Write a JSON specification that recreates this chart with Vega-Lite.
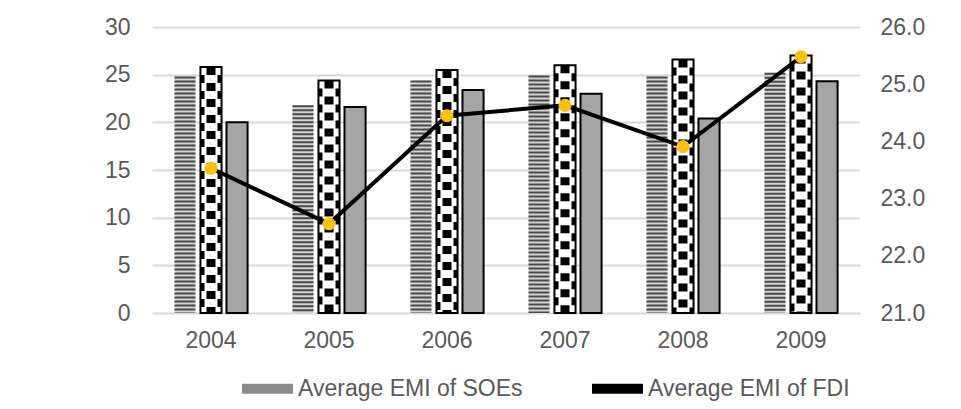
{
  "$schema": "https://vega.github.io/schema/vega-lite/v6.json",
  "width": 708,
  "height": 286,
  "autosize": {"type": "none"},
  "padding": {"left": 152, "top": 27, "right": 101, "bottom": 96},
  "background": "#ffffff",
  "config": {
    "font": "Liberation Sans",
    "view": {"stroke": null},
    "axis": {"labelFont": "Liberation Sans", "labelFontSize": 23, "labelColor": "#595959", "ticks": false, "domain": false, "title": null}
  },
  "data": {
    "values": [
      {"year": "2004", "soe": 24.8, "fdi": 25.8, "other": 20.0, "emi": 23.53},
      {"year": "2005", "soe": 21.8, "fdi": 24.4, "other": 21.6, "emi": 22.56},
      {"year": "2006", "soe": 24.4, "fdi": 25.5, "other": 23.4, "emi": 24.45},
      {"year": "2007", "soe": 24.9, "fdi": 26.0, "other": 23.0, "emi": 24.63},
      {"year": "2008", "soe": 24.8, "fdi": 26.6, "other": 20.4, "emi": 23.91},
      {"year": "2009", "soe": 25.2, "fdi": 27.0, "other": 24.3, "emi": 25.48}
    ]
  },
  "resolve": {"scale": {"y": "independent"}},
  "layer": [
    {
      "layer": [
        {
          "transform": [
            {"fold": ["soe", "fdi", "other"], "as": ["series", "value"]}
          ],
          "mark": {"type": "bar", "strokeWidth": 2},
          "encoding": {
            "x": {"field": "year", "type": "nominal", "sort": null,
                  "scale": {"paddingInner": 0.38, "paddingOuter": 0.19},
                  "axis": {"labelAngle": 0, "labelPadding": 16, "grid": false}},
            "xOffset": {"field": "series", "type": "nominal",
                        "scale": {"domain": ["soe", "fdi", "other"], "paddingInner": 0.19, "paddingOuter": 0}},
            "y": {"field": "value", "type": "quantitative",
                  "scale": {"domain": [0, 30], "nice": false},
                  "axis": {"values": [0, 5, 10, 15, 20, 25, 30], "grid": true, "gridColor": "#d9d9d9", "gridWidth": 2, "labelPadding": 22, "orient": "left"}},
            "fill": {"field": "series", "type": "nominal", "legend": null,
                     "scale": {"domain": ["soe", "fdi", "other"], "range": ["#d4d4d4", "#ffffff", "#a5a5a5"]}},
            "stroke": {"field": "series", "type": "nominal", "legend": null,
                       "scale": {"domain": ["soe", "fdi", "other"], "range": ["transparent", "#000000", "#000000"]}}
          }
        },
        {
          "mark": {"type": "rule", "xOffset": -26, "strokeWidth": 21, "strokeDash": [2, 2], "color": "#4a4a4a", "strokeCap": "butt"},
          "encoding": {
            "x": {"field": "year", "type": "nominal", "sort": null},
            "y": {"field": "soe", "type": "quantitative"},
            "y2": {"datum": 0}
          }
        },
        {
          "mark": {"type": "rule", "strokeWidth": 9, "strokeDash": [8, 8], "color": "#000000", "strokeCap": "butt"},
          "encoding": {
            "x": {"field": "year", "type": "nominal", "sort": null},
            "y": {"field": "fdi", "type": "quantitative"},
            "y2": {"datum": 0}
          }
        },
        {
          "mark": {"type": "rule", "xOffset": -8.5, "strokeWidth": 4, "strokeDash": [8, 8], "strokeDashOffset": 8, "color": "#000000", "strokeCap": "butt"},
          "encoding": {
            "x": {"field": "year", "type": "nominal", "sort": null},
            "y": {"field": "fdi", "type": "quantitative"},
            "y2": {"datum": 0}
          }
        },
        {
          "mark": {"type": "rule", "xOffset": 8.5, "strokeWidth": 4, "strokeDash": [8, 8], "strokeDashOffset": 8, "color": "#000000", "strokeCap": "butt"},
          "encoding": {
            "x": {"field": "year", "type": "nominal", "sort": null},
            "y": {"field": "fdi", "type": "quantitative"},
            "y2": {"datum": 0}
          }
        },
        {
          "transform": [
            {"fold": ["soe", "fdi"], "as": ["key", "value"]},
            {"calculate": "datum.key === 'soe' ? 'Average EMI of SOEs' : 'Average EMI of FDI'", "as": "series"}
          ],
          "mark": {"type": "point", "filled": true, "opacity": 0},
          "encoding": {
            "x": {"field": "year", "type": "nominal", "sort": null},
            "y": {"field": "value", "type": "quantitative"},
            "color": {"field": "series", "type": "nominal",
                      "scale": {"domain": ["Average EMI of SOEs", "Average EMI of FDI"], "range": ["#8a8a8a", "#000000"]},
                      "legend": {"title": null, "orient": "none", "legendX": 90, "legendY": 336, "direction": "horizontal",
                                 "symbolType": "M-1,-0.2H1V0.2H-1Z", "symbolSize": 2600, "symbolOpacity": 1, "symbolStrokeWidth": 0,
                                 "labelFont": "Liberation Sans", "labelFontSize": 23, "labelColor": "#595959", "labelOffset": 5,
                                 "columnPadding": 69, "padding": 0, "labelLimit": 400}}
          }
        }
      ]
    },
    {
      "layer": [
        {
          "mark": {"type": "line", "color": "#000000", "strokeWidth": 4},
          "encoding": {
            "x": {"field": "year", "type": "nominal", "sort": null},
            "y": {"field": "emi", "type": "quantitative",
                  "scale": {"domain": [21, 26], "nice": false, "zero": false},
                  "axis": {"orient": "right", "values": [21, 22, 23, 24, 25, 26], "format": ".1f", "grid": false, "labelPadding": 20}}
          }
        },
        {
          "mark": {"type": "point", "filled": true, "color": "#FFC000", "size": 170, "opacity": 1},
          "encoding": {
            "x": {"field": "year", "type": "nominal", "sort": null},
            "y": {"field": "emi", "type": "quantitative"}
          }
        }
      ]
    }
  ]
}
